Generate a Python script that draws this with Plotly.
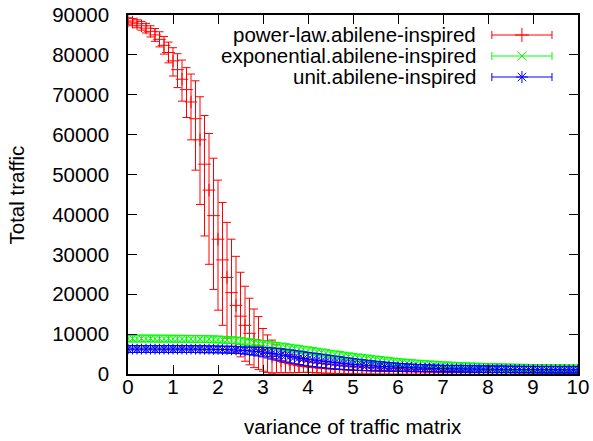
import plotly.graph_objects as go

# x grid: variance of traffic matrix, 0.0 .. 10.0 step 0.1
x_vals = [round(i / 10, 1) for i in range(101)]
x_ticks = [0, 1, 2, 3, 4, 5, 6, 7, 8, 9, 10]
y_ticks = [0, 10000, 20000, 30000, 40000, 50000, 60000, 70000, 80000, 90000]

series_names = ["power-law.abilene-inspired", "exponential.abilene-inspired", "unit.abilene-inspired"]
x_title = "variance of traffic matrix"
y_title = "Total traffic"

power_y = [
    88500, 88200, 87800, 87300, 86700, 85900, 85000, 83900, 82400, 80600,
    78500, 76300, 73900, 71300, 68200, 64000, 58700, 52600, 46100, 39700,
    33800, 28600, 24200, 20400, 17200, 14500, 12200, 10200, 8600, 7200,
    6100, 5200, 4400, 3800, 3300, 2900, 2550, 2300, 2080, 1900,
    1760, 1650, 1540, 1440, 1350, 1270, 1200, 1130, 1070, 1010,
    960, 915, 870, 830, 795, 760, 730, 700, 675, 650,
    630, 610, 590, 570, 555, 540, 525, 510, 498, 486,
    475, 465, 455, 445, 436, 428, 420, 413, 406, 399,
    393, 387, 381, 376, 371, 366, 361, 357, 353, 349,
    345, 341, 338, 335, 332, 329, 326, 323, 320, 318,
    316,
]
power_err_plus = [
    800, 900, 1000, 1100, 1200, 1400, 1600, 1900, 2200, 2600,
    3300, 4000, 4800, 5500, 7000, 9500, 10800, 12200, 14200, 14400,
    14800, 14400, 13800, 13400, 12300, 11000, 9800, 8800, 7700, 7200,
    5300, 4600, 4100, 3500, 3000, 2600, 2250, 2000, 1720, 1500,
    1340, 1300, 1250, 1200, 1150, 1100, 1060, 1020, 980, 950,
    920, 890, 860, 835, 810, 785, 765, 745, 725, 705,
    690, 675, 660, 645, 630, 615, 600, 590, 580, 570,
    560, 550, 540, 532, 524, 516, 508, 500, 493, 486,
    479, 472, 466, 460, 454, 448, 442, 437, 432, 427,
    422, 417, 412, 408, 404, 400, 396, 392, 388, 384,
    380,
]
power_err_minus = [
    800, 900, 1000, 1100, 1200, 1400, 1600, 1900, 2200, 2600,
    3800, 4500, 5500, 7000, 9500, 12900, 16200, 18000, 18600, 18500,
    17800, 16400, 15200, 13400, 11700, 10200, 9000, 7900, 7000, 6100,
    5400, 4800, 4200, 3500, 3000, 2600, 2250, 2000, 1720, 1500,
    1340, 1300, 1250, 1200, 1150, 1100, 1060, 1020, 980, 950,
    920, 890, 860, 835, 810, 785, 765, 745, 725, 705,
    690, 675, 660, 645, 630, 615, 600, 590, 580, 570,
    560, 550, 540, 532, 524, 516, 508, 500, 493, 486,
    479, 472, 466, 460, 454, 448, 442, 437, 432, 427,
    422, 417, 412, 408, 404, 400, 396, 392, 388, 384,
    380,
]

exp_y = [
    8900, 8900, 8900, 8900, 8890, 8890, 8880, 8880, 8870, 8860,
    8850, 8840, 8830, 8820, 8810, 8800, 8780, 8760, 8730, 8700,
    8650, 8600, 8550, 8480, 8400, 8250, 8120, 7980, 7830, 7670,
    7500, 7340, 7180, 7020, 6860, 6700, 6540, 6380, 6220, 6060,
    5900, 5730, 5560, 5390, 5220, 5050, 4890, 4730, 4570, 4410,
    4250, 4120, 3990, 3860, 3730, 3600, 3470, 3340, 3210, 3080,
    2950, 2860, 2770, 2680, 2590, 2500, 2430, 2360, 2290, 2220,
    2150, 2100, 2050, 2000, 1950, 1900, 1860, 1820, 1790, 1750,
    1720, 1690, 1660, 1630, 1600, 1580, 1560, 1540, 1520, 1500,
    1480, 1460, 1440, 1420, 1410, 1400, 1390, 1380, 1370, 1360,
    1350,
]
exp_err = [850] * 30 + [900] * 71

unit_y = [
    6250, 6250, 6250, 6250, 6250, 6250, 6250, 6250, 6250, 6250,
    6250, 6250, 6250, 6240, 6240, 6230, 6220, 6210, 6200, 6180,
    6160, 6130, 6100, 6060, 6010, 5950, 5880, 5800, 5710, 5610,
    5500, 5320, 5140, 4960, 4780, 4600, 4420, 4240, 4060, 3880,
    3700, 3560, 3420, 3280, 3140, 3000, 2880, 2760, 2640, 2520,
    2400, 2320, 2240, 2160, 2080, 2000, 1940, 1880, 1820, 1760,
    1700, 1660, 1620, 1580, 1540, 1500, 1470, 1440, 1410, 1380,
    1350, 1335, 1320, 1305, 1290, 1275, 1260, 1245, 1230, 1215,
    1200, 1190, 1180, 1170, 1160, 1150, 1140, 1130, 1120, 1110,
    1100, 1095, 1090, 1085, 1080, 1075, 1070, 1065, 1060, 1055,
    1050,
]
unit_err = (
    [850] * 26
    + [900, 950, 1000, 1100]
    + [1200, 1300, 1400, 1480, 1550, 1600, 1640, 1670, 1690, 1700]
    + [1700, 1700, 1690, 1680, 1660, 1640, 1610, 1580, 1540, 1500]
    + [1450, 1400, 1350, 1300, 1250, 1200, 1150, 1100, 1060, 1020]
    + [980, 950, 920, 900, 880, 860, 850, 840, 830, 820]
    + [810, 810] + [800] * 29
)

colors = ["#ff0000", "#00ff00", "#0000ff"]
symbols = ["cross-thin-open", "x-thin-open", "asterisk-open"]
msizes = [9, 8, 9]

FONT = "Liberation Sans, Arial, Helvetica, sans-serif"
FS = 20.5

fig = go.Figure()

data = [
    (power_y, power_err_plus, power_err_minus),
    (exp_y, exp_err, exp_err),
    (unit_y, unit_err, unit_err),
]

for (yv, ep, em), c, s, ms, name in zip(data, colors, symbols, msizes, series_names):
    fig.add_trace(go.Scatter(
        x=x_vals, y=yv, mode="markers", name=name, showlegend=False,
        marker=dict(symbol=s, size=ms, color=c, line=dict(color=c, width=1)),
        error_y=dict(type="data", symmetric=False, array=ep, arrayminus=em,
                     color=c, thickness=1, width=4),
    ))

# custom gnuplot-style key (text on the left, sample on the right) on an overlay axis
key_rows = [0.9443, 0.8858, 0.8273]
key_sample_x = 0.8754
key_half = 0.0668
key_text_x = 0.7775
for row, c, s, ms, name in zip(key_rows, colors, symbols, msizes, series_names):
    fig.add_trace(go.Scatter(
        x=[key_sample_x], y=[row], xaxis="x2", yaxis="y2", mode="markers",
        showlegend=False, hoverinfo="skip",
        marker=dict(symbol=s, size=ms + 1, color=c, line=dict(color=c, width=1)),
        error_x=dict(type="constant", value=key_half, color=c, thickness=1, width=4),
    ))
    fig.add_annotation(
        x=key_text_x, y=row, xref="paper", yref="paper", text=name,
        showarrow=False, xanchor="right", yanchor="middle",
        font=dict(family=FONT, size=FS, color="black"),
    )

# axis titles placed as in the reference
fig.add_annotation(x=0.5, y=-0.1476, xref="paper", yref="paper", text=x_title,
                   showarrow=False, xanchor="center", yanchor="middle",
                   font=dict(family=FONT, size=FS, color="black"))
fig.add_annotation(x=-0.2467, y=0.5, xref="paper", yref="paper", text=y_title,
                   showarrow=False, xanchor="center", yanchor="middle", textangle=-90,
                   font=dict(family=FONT, size=FS, color="black"))

axis_common = dict(
    showgrid=False, zeroline=False, showline=True, linecolor="black", linewidth=1.5,
    mirror="ticks", ticks="inside", ticklen=9, tickwidth=1, tickcolor="black",
    tickfont=dict(family=FONT, size=FS, color="black"), automargin=False,
    ticklabeloverflow="allow",
)

fig.update_layout(
    width=593, height=441,
    margin=dict(l=128, r=15, t=15, b=67),
    paper_bgcolor="white", plot_bgcolor="white",
    font=dict(family=FONT, size=FS, color="black"),
    showlegend=False,
    xaxis=dict(range=[0, 10], tickvals=x_ticks, ticktext=[str(t) for t in x_ticks],
               ticklabelstandoff=-6, **axis_common),
    yaxis=dict(range=[0, 90000], tickvals=y_ticks, ticktext=[str(t) for t in y_ticks],
               ticklabelstandoff=13, **axis_common),
    xaxis2=dict(range=[0, 1], overlaying="x", visible=False, fixedrange=True),
    yaxis2=dict(range=[0, 1], overlaying="y", visible=False, fixedrange=True),
)

# remove the default page margin so the 593x441 figure fills the window exactly
fig.write_html("out.html", config={"displayModeBar": False},
               post_script="document.body.style.margin='0';")
